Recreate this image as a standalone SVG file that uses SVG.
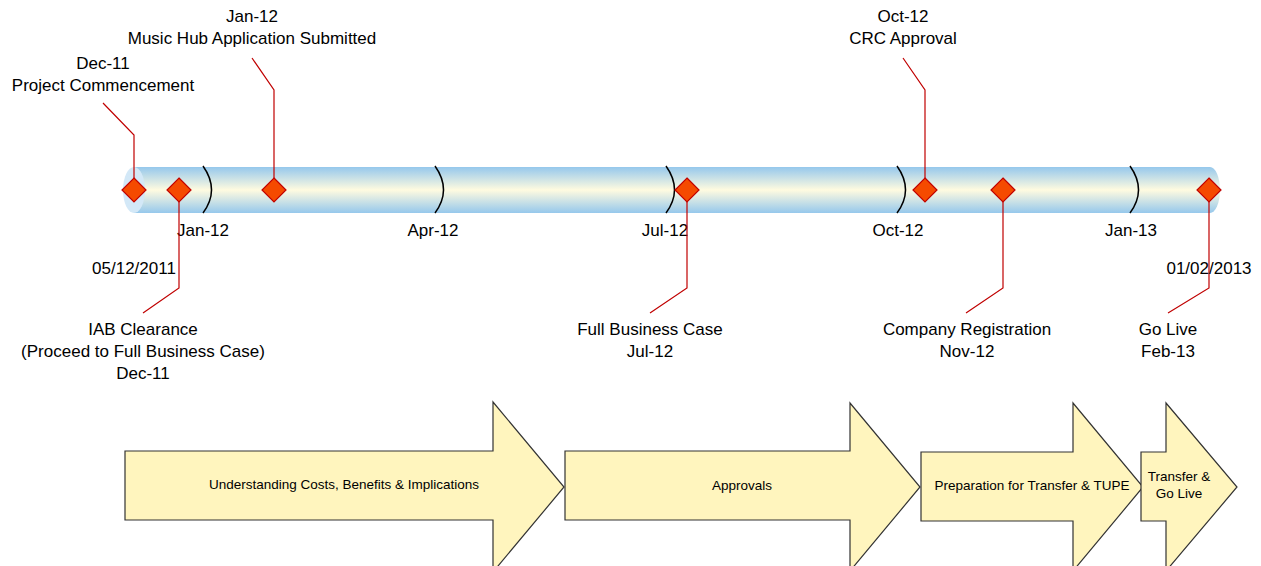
<svg xmlns="http://www.w3.org/2000/svg" width="1261" height="566" viewBox="0 0 1261 566">
<style>
text{font-family:"Liberation Sans",Arial,sans-serif;fill:#000}
.lbl{font-size:17px;text-anchor:middle}
.arr{font-size:13.5px;text-anchor:middle}
.lead{fill:none;stroke:#C00000;stroke-width:1.2}
.tick{fill:none;stroke:#000;stroke-width:1.5}
.dia{fill:#F54A00;stroke:#C00000;stroke-width:1.2}
.chev{fill:#FFF5BE;stroke:#333;stroke-width:1.2}
</style>
<defs>
<linearGradient id="tube" x1="0" y1="0" x2="0" y2="1">
<stop offset="0" stop-color="#96C8EC"/>
<stop offset="0.5" stop-color="#FFFBE0"/>
<stop offset="1" stop-color="#96C8EC"/>
</linearGradient>
</defs>
<g id="timeline">
<path d="M134 167 H1210 A10 23 0 0 1 1210 213 H134 Z" fill="url(#tube)"/>
<ellipse cx="134" cy="190" rx="11" ry="23" fill="#D3E8F7"/>
<path class="tick" d="M203 166 Q220 190 203 213"/>
<path class="tick" d="M435 166 Q452 190 435 213"/>
<path class="tick" d="M666 166 Q683 190 666 213"/>
<path class="tick" d="M897 166 Q914 190 897 213"/>
<path class="tick" d="M1130 166 Q1147 190 1130 213"/>
<text class="lbl" x="203" y="236">Jan-12</text>
<text class="lbl" x="433" y="236">Apr-12</text>
<text class="lbl" x="665" y="236">Jul-12</text>
<text class="lbl" x="898" y="236">Oct-12</text>
<text class="lbl" x="1131" y="236">Jan-13</text>
</g>
<g id="connectors">
<polyline class="lead" points="134,178 134,135 103,103"/>
<polyline class="lead" points="179,202 179,288 143,313"/>
<polyline class="lead" points="274,178 274,90 252,58"/>
<polyline class="lead" points="687,202 687,288 650,313"/>
<polyline class="lead" points="925,178 925,90 903,58"/>
<polyline class="lead" points="1003,202 1003,288 966,313"/>
<polyline class="lead" points="1209,202 1209,288 1168,313"/>
</g>
<g id="m-dec11">
<path class="dia" d="M134 178 L146 190 L134 202 L122 190 Z"/>
<text class="lbl" x="103" y="69">Dec-11</text>
<text class="lbl" x="103" y="91">Project Commencement</text>
</g>
<g id="m-iab">
<path class="dia" d="M179 178 L191 190 L179 202 L167 190 Z"/>
<text class="lbl" x="134" y="274">05/12/2011</text>
<text class="lbl" x="143" y="335">IAB Clearance</text>
<text class="lbl" x="143" y="357">(Proceed to Full Business Case)</text>
<text class="lbl" x="143" y="379">Dec-11</text>
</g>
<g id="m-musichub">
<path class="dia" d="M274 178 L286 190 L274 202 L262 190 Z"/>
<text class="lbl" x="252" y="22">Jan-12</text>
<text class="lbl" x="252" y="44">Music Hub Application Submitted</text>
</g>
<g id="m-fbc">
<path class="dia" d="M687 178 L699 190 L687 202 L675 190 Z"/>
<text class="lbl" x="650" y="335">Full Business Case</text>
<text class="lbl" x="650" y="357">Jul-12</text>
</g>
<g id="m-crc">
<path class="dia" d="M925 178 L937 190 L925 202 L913 190 Z"/>
<text class="lbl" x="903" y="22">Oct-12</text>
<text class="lbl" x="903" y="44">CRC Approval</text>
</g>
<g id="m-company">
<path class="dia" d="M1003 178 L1015 190 L1003 202 L991 190 Z"/>
<text class="lbl" x="967" y="335">Company Registration</text>
<text class="lbl" x="967" y="357">Nov-12</text>
</g>
<g id="m-golive">
<path class="dia" d="M1209 178 L1221 190 L1209 202 L1197 190 Z"/>
<text class="lbl" x="1209" y="274">01/02/2013</text>
<text class="lbl" x="1168" y="335">Go Live</text>
<text class="lbl" x="1168" y="357">Feb-13</text>
</g>
<g id="phase1">
<path class="chev" d="M125 451 H493 V402 L564 487 L493 572 V520 H125 Z"/>
<text class="arr" x="344" y="489">Understanding Costs, Benefits &amp; Implications</text>
</g>
<g id="phase2">
<path class="chev" d="M565 451 H850 V403 L920 487 L850 571 V520 H565 Z"/>
<text class="arr" x="742" y="490">Approvals</text>
</g>
<g id="phase3">
<path class="chev" d="M921 452 H1073 V403 L1143 487 L1073 571 V521 H921 Z"/>
<text class="arr" x="1032" y="490">Preparation for Transfer &amp; TUPE</text>
</g>
<g id="phase4">
<path class="chev" d="M1141 452 H1166 V403 L1237 487 L1166 571 V521 H1141 Z"/>
<text class="arr" x="1179" y="481">Transfer &amp;</text>
<text class="arr" x="1179" y="498">Go Live</text>
</g>
</svg>
